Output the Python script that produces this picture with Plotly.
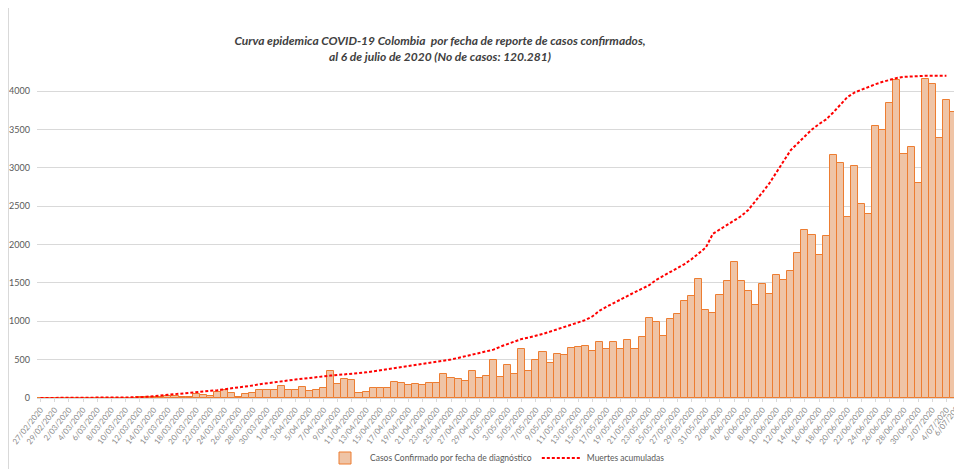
import datetime as dt
import plotly.graph_objects as go

# ---- categories (dates 27/02/2020 .. 6/07/2020) ----
start = dt.date(2020, 2, 27)
dates = [start + dt.timedelta(days=i) for i in range(131)]
date_labels = [f"{d.day}/{d.month:02d}/{d.year}" for d in dates]
tick_labels = date_labels[::2]
axis_ticks = tick_labels[:-1]          # last label drawn as annotation so it stays inside
last_label = tick_labels[-1]

# ---- series values ----
casos = [
    0, 0, 0, 0, 0, 0, 0, 0, 1, 0,
    2, 3, 4, 6, 9, 8, 14, 18, 26, 22,
    8, 18, 52, 35, 26, 78, 100, 61, 13, 56,
    69, 100, 100, 104, 156, 100, 109, 143, 87, 100,
    130, 347, 178, 252, 232, 66, 74, 126, 126, 126,
    208, 191, 174, 178, 174, 195, 195, 313, 265, 243,
    221, 356, 265, 291, 495, 278, 424, 311, 643, 348,
    499, 599, 452, 569, 556, 656, 665, 678, 612, 725,
    634, 725, 638, 751, 638, 800, 1048, 996, 808, 1025,
    1099, 1264, 1325, 1546, 1147, 1107, 1342, 1529, 1768, 1520,
    1390, 1207, 1489, 1359, 1607, 1537, 1650, 1894, 2189, 2124,
    1863, 2115, 3166, 3057, 2362, 3023, 2532, 2393, 3540, 3492,
    3844, 4139, 3175, 3266, 2801, 4156, 4095, 3392, 3883, 3722,
    3170,
]

muertes = [
    0, 0, 0, 0, 0, 0, 0, 0, 0, 1,
    1, 2, 3, 5, 9, 16, 22, 32, 41, 50,
    57, 66, 77, 85, 93, 102, 113, 125, 136, 148,
    163, 180, 190, 200, 212, 228, 240, 252, 262, 276,
    286, 292, 300, 308, 315, 322, 334, 348, 362, 380,
    392, 404, 418, 430, 442, 456, 468, 484, 502, 522,
    545, 562, 588, 605, 630, 670, 700, 735, 770, 788,
    808, 835, 865, 895, 925, 955, 985, 1016, 1065, 1140,
    1190, 1240, 1290, 1330, 1380, 1425, 1470, 1540, 1590, 1640,
    1690, 1745, 1810, 1880, 1960, 2140, 2200, 2260, 2320, 2370,
    2450, 2560, 2680, 2800, 2940, 3080, 3230, 3320, 3410, 3500,
    3570, 3630, 3720, 3820, 3920, 3980, 4020, 4060, 4090, 4120,
    4150, 4170, 4185, 4192, 4196, 4199, 4200, 4200, 4200,
]

y_ticks = [0, 500, 1000, 1500, 2000, 2500, 3000, 3500, 4000]

FONT = "Lato"
GREY = "#595959"

# figure sits at (8, 8) in the page (default body margin)
W, H = 954, 461
ML, MR, MT, MB = 29, 0, 60, 71
PW, PH = W - ML - MR, H - MT - MB

fig = go.Figure()
fig.add_trace(go.Bar(
    x=date_labels, y=casos,
    name="Casos Confirmado por fecha de diagnóstico",
    marker=dict(color="#EFC4A6",
                line=dict(color="#ED7D31", width=1)),
))
fig.add_trace(go.Scatter(
    x=date_labels[:len(muertes)], y=muertes,
    name="Muertes acumuladas", mode="lines",
    line=dict(color="#FF0000", width=2, dash="3px,2px"),
))

fig.update_layout(
    width=W, height=H,
    margin=dict(l=ML, r=MR, t=MT, b=MB, autoexpand=False),
    paper_bgcolor="white", plot_bgcolor="white",
    bargap=0,
    font=dict(family=FONT, color=GREY),
    title=dict(
        text="<b><i>Curva epidemica COVID-19 Colombia  por fecha de reporte de casos confirmados,<br>al 6 de julio de 2020 (No de casos: 120.281)</i></b>",
        x=432 / W, xanchor="center", y=1 - 37 / H, yanchor="middle",
        font=dict(family=FONT, size=12, color="#404040"),
    ),
    showlegend=True,
    legend=dict(orientation="h", x=(487 - ML) / PW, xanchor="center",
                y=-(450 - (H - MB)) / PH, yanchor="middle",
                font=dict(size=8.5, color=GREY), itemwidth=40),
    xaxis=dict(
        type="category", range=[-0.5, 130.2],
        tickmode="array", tickvals=axis_ticks, ticktext=axis_ticks,
        tickangle=-52, tickfont=dict(size=8, color="#8c8c8c"),
        showline=True, linecolor="#D9D9D9", linewidth=1,
        ticks="outside", ticklen=3, tickcolor="#D9D9D9",
        showgrid=False, automargin=False,
    ),
    yaxis=dict(
        range=[0, 4300], tickvals=y_ticks,
        tickfont=dict(size=9, color=GREY),
        showgrid=True, gridcolor="#D9D9D9", gridwidth=1,
        zeroline=False, showline=False, automargin=False,
        ticklabelstandoff=6,
    ),
    annotations=[dict(
        text=last_label, xref="paper", yref="paper",
        x=(940 - ML) / PW, y=-(411 - (H - MB)) / PH,
        xanchor="center", yanchor="middle", textangle=-52,
        showarrow=False, font=dict(size=8, color="#8c8c8c"),
    )],
    shapes=[dict(type="line", xref="paper", yref="paper",
                 x0=(0.5 - ML) / PW, x1=(0.5 - ML) / PW,
                 y0=-MB / PH, y1=(H - MB) / PH,
                 line=dict(color="#D9D9D9", width=1))],
)

fig.write_html("out.html")
